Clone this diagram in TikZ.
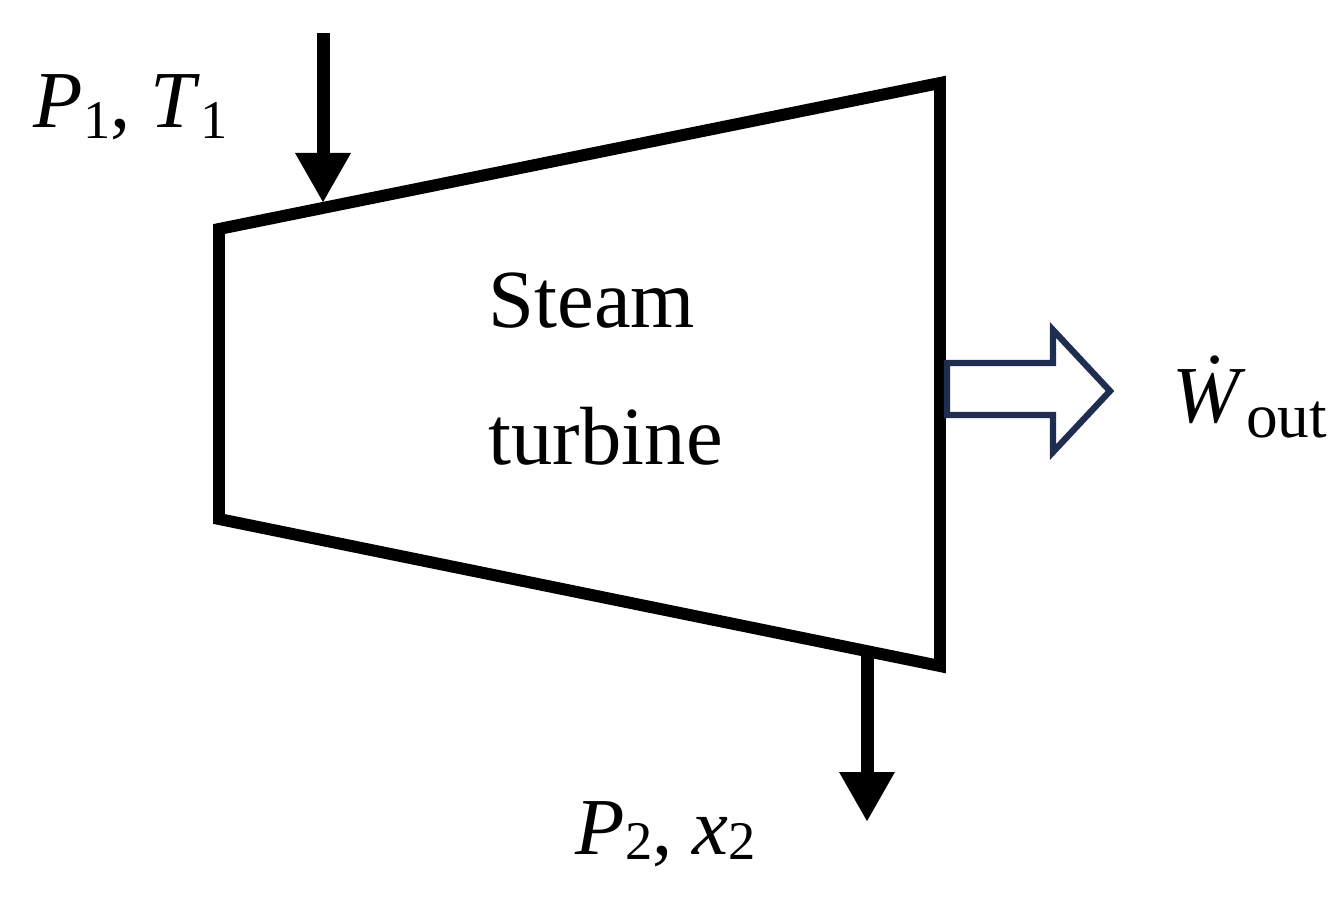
\documentclass[tikz,border=0pt]{standalone}
\usepackage{fontspec}
\setmainfont{Liberation Serif}
\usetikzlibrary{arrows.meta, positioning, calc}

\definecolor{worknavy}{RGB}{31,45,80}
\newcommand{\lowsub}[2][0.12cm]{\raisebox{-#1}{\fontsize{15.5}{16}\selectfont #2}}

\begin{document}
\begin{tikzpicture}[
    casing/.style={line width=3.4pt, line join=miter, draw=black},
    flow/.style={-{Triangle[width=0.52cm, length=0.5cm]}, line width=3.7pt},
    work/.style={draw=worknavy, line width=1.8pt, line join=miter, fill=white},
    label_node/.style={font=\fontsize{23}{28}\selectfont, inner sep=0pt, anchor=base west},
    title/.style={font=\fontsize{23.5}{39}\selectfont, align=left, inner sep=0pt}
]
\useasboundingbox (0,0) rectangle (13.37,-9.01);

% --- Turbine casing ---
\coordinate (tl) at (2.19,-2.29);
\coordinate (tr) at (9.40,-0.83);
\coordinate (br) at (9.40,-6.66);
\coordinate (bl) at (2.19,-5.19);
\draw[casing] (tl) -- (tr) -- (br) -- (bl) -- cycle;

\node[title, anchor=north west] (turbine) at (4.88,-2.72) {Steam\\turbine};

% --- Inlet ---
\coordinate (in_top) at (3.23,-0.33);
\coordinate (in_tip) at (3.23,-2.03);
\draw[flow] (in_top) -- (in_tip);
\node[label_node] (state1) at (0.33,-1.27) {\textit{P}\lowsub{1}, \textit{T}\lowsub{1}};

% --- Outlet ---
\coordinate (out_top) at (8.67,-6.50);
\coordinate (out_tip) at (8.67,-8.22);
\draw[flow] (out_top) -- (out_tip);
\node[label_node] (state2) at (5.75,-8.54) {\textit{P}\lowsub[0.05cm]{2}, \textit{x}\lowsub[0.05cm]{2}};

% --- Work output ---
\draw[work] (9.47,-3.63) -- (10.53,-3.63) -- (10.53,-3.30) -- (11.10,-3.91)
    -- (10.53,-4.52) -- (10.53,-4.15) -- (9.47,-4.15) -- cycle;
\node[label_node] (wout) at (11.72,-4.22) {\textit{\.{W}}\raisebox{-0.15cm}{\fontsize{18}{20}\selectfont out}};

\end{tikzpicture}
\end{document}
